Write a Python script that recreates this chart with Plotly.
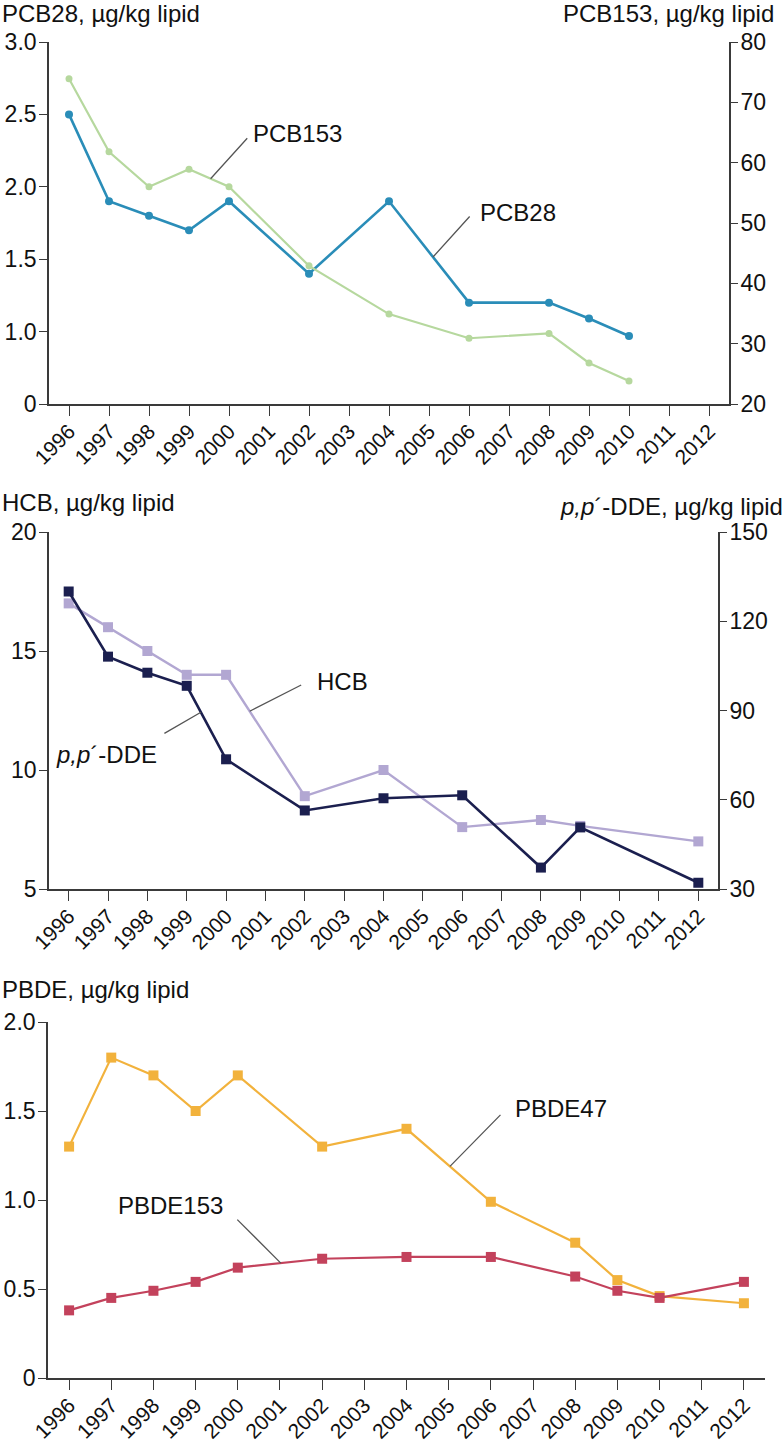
import numpy as np
import plotly.graph_objects as go

W, H = 784, 1443
FONT = "Liberation Sans, Arial, Helvetica, sans-serif"
FS_TITLE = 24
FS_TICK = 23
FS_XTICK = 21

# ---------------- data ----------------
axis_years = list(range(1996, 2013))
axis_year_labels = [str(y) for y in axis_years]

pcb_years = [1996, 1997, 1998, 1999, 2000, 2002, 2004, 2006, 2008, 2009, 2010]
pcb28 = [2.50, 1.90, 1.80, 1.70, 1.90, 1.40, 1.90, 1.20, 1.20, 1.09, 0.97]
pcb153 = [73.9, 61.8, 56.0, 58.9, 56.0, 42.9, 34.9, 30.9, 31.7, 26.8, 23.8]

oc_years = [1996, 1997, 1998, 1999, 2000, 2002, 2004, 2006, 2008, 2009, 2012]
hcb = [17.0, 16.0, 15.0, 14.0, 14.0, 8.9, 10.0, 7.6, 7.9, 7.65, 7.0]
dde = [130.0, 108.1, 102.7, 98.3, 73.6, 56.4, 60.5, 61.5, 37.2, 50.7, 32.1]

pbde_years = [1996, 1997, 1998, 1999, 2000, 2002, 2004, 2006, 2008, 2009, 2010, 2012]
pbde47 = [1.30, 1.80, 1.70, 1.50, 1.70, 1.30, 1.40, 0.99, 0.76, 0.55, 0.46, 0.42]
pbde153 = [0.38, 0.45, 0.49, 0.54, 0.62, 0.67, 0.68, 0.68, 0.57, 0.49, 0.45, 0.54]

pcb28_tickvals = [0.5, 1.0, 1.5, 2.0, 2.5, 3.0]
pcb28_ticktext = ["0", "1.0", "1.5", "2.0", "2.5", "3.0"]
pcb153_tickvals = [20, 30, 40, 50, 60, 70, 80]
hcb_tickvals = [5, 10, 15, 20]
dde_tickvals = [30, 60, 90, 120, 150]
pbde_tickvals = [0, 0.5, 1.0, 1.5, 2.0]
pbde_ticktext = ["0", "0.5", "1.0", "1.5", "2.0"]

# colours
C_PCB28 = "#2a8db8"
C_PCB153 = "#b6d89e"
C_HCB = "#b2a7d2"
C_DDE = "#1b1f4f"
C_P47 = "#f2b23c"
C_P153 = "#c3425c"
AX = "#3a3a3a"


def xdom(l, r):
    return [l / W, r / W]


def ydom(top, bottom):
    return [1 - bottom / H, 1 - top / H]


def on_line(xs, ys, x):
    return float(np.interp(x, xs, ys))


fig = go.Figure()

# panel 1
fig.add_trace(go.Scatter(x=pcb_years, y=pcb153, xaxis="x", yaxis="y2", mode="lines+markers",
                         line=dict(color=C_PCB153, width=2.2),
                         marker=dict(symbol="circle", size=7, color=C_PCB153), name="PCB153"))
fig.add_trace(go.Scatter(x=pcb_years, y=pcb28, xaxis="x", yaxis="y", mode="lines+markers",
                         line=dict(color=C_PCB28, width=2.6),
                         marker=dict(symbol="circle", size=8, color=C_PCB28), name="PCB28"))
# panel 2
fig.add_trace(go.Scatter(x=oc_years, y=hcb, xaxis="x2", yaxis="y3", mode="lines+markers",
                         line=dict(color=C_HCB, width=2.4),
                         marker=dict(symbol="square", size=10, color=C_HCB), name="HCB"))
fig.add_trace(go.Scatter(x=oc_years, y=dde, xaxis="x2", yaxis="y4", mode="lines+markers",
                         line=dict(color=C_DDE, width=2.6),
                         marker=dict(symbol="square", size=10, color=C_DDE), name="p,p'-DDE"))
# panel 3
fig.add_trace(go.Scatter(x=pbde_years, y=pbde47, xaxis="x3", yaxis="y5", mode="lines+markers",
                         line=dict(color=C_P47, width=2.2),
                         marker=dict(symbol="square", size=10, color=C_P47), name="PBDE47"))
fig.add_trace(go.Scatter(x=pbde_years, y=pbde153, xaxis="x3", yaxis="y5", mode="lines+markers",
                         line=dict(color=C_P153, width=2.2),
                         marker=dict(symbol="square", size=10, color=C_P153), name="PBDE153"))

xcommon = dict(range=[1995.5, 2012.5], tickmode="array", tickvals=axis_years, ticktext=axis_year_labels,
               tickangle=-45, ticks="outside", ticklen=10, tickwidth=1.3, tickcolor=AX,
               showline=True, linecolor=AX, linewidth=1.6, showgrid=False, zeroline=False,
               tickfont=dict(family=FONT, size=FS_XTICK, color="#111"), ticklabelstandoff=-5,
               automargin=False, fixedrange=True)
ycommon = dict(ticks="outside", ticklen=8, tickwidth=1.3, tickcolor=AX, showline=True, linecolor=AX,
               linewidth=1.6, showgrid=False, zeroline=False,
               tickfont=dict(family=FONT, size=FS_TICK, color="#111"), automargin=False,
               fixedrange=True, tickmode="array", ticklabelstandoff=-2)

layout = dict(
    width=W, height=H, margin=dict(l=0, r=0, t=0, b=0), paper_bgcolor="white", plot_bgcolor="white",
    showlegend=False, font=dict(family=FONT, size=FS_TICK, color="#111"),
    xaxis=dict(xcommon, domain=xdom(49, 729), anchor="y"),
    yaxis=dict(ycommon, domain=ydom(42, 404), range=[0.5, 3.0], tickvals=pcb28_tickvals,
               ticktext=pcb28_ticktext, anchor="x"),
    yaxis2=dict(ycommon, domain=ydom(42, 404), range=[20, 80], tickvals=pcb153_tickvals,
                overlaying="y", side="right", anchor="x", ticklen=7),
    xaxis2=dict(xcommon, domain=xdom(49, 718), anchor="y3"),
    yaxis3=dict(ycommon, domain=ydom(532, 889), range=[5, 20], tickvals=hcb_tickvals, anchor="x2"),
    yaxis4=dict(ycommon, domain=ydom(532, 889), range=[30, 150], tickvals=dde_tickvals,
                overlaying="y3", side="right", anchor="x2", ticklen=7),
    xaxis3=dict(xcommon, domain=xdom(48, 765), anchor="y5"),
    yaxis5=dict(ycommon, domain=ydom(1022, 1378), range=[0, 2.0], tickvals=pbde_tickvals,
                ticktext=pbde_ticktext, anchor="x3"),
)
fig.update_layout(**layout)

ann = []


def title(text, xpx, ypx, anchor):
    ann.append(dict(x=xpx / W, y=1 - ypx / H, xref="paper", yref="paper", text=text, showarrow=False,
                    xanchor=anchor, yanchor="middle",
                    font=dict(family=FONT, size=FS_TITLE, color="#111")))


title("PCB28, µg/kg lipid", 0, 13, "left")
title("PCB153, µg/kg lipid", 668, 13, "center")
title("HCB, µg/kg lipid", 0, 502, "left")
title("<i>p,p</i>´-DDE, µg/kg lipid", 671, 507, "center")
title("PBDE, µg/kg lipid", 0, 989, "left")


def leader(xref, yref, xs, ys, xv, ax, ay, text, xanchor, xshift, yshift):
    yv = on_line(xs, ys, xv)
    ann.append(dict(x=xv, y=yv, xref=xref, yref=yref, text="", showarrow=True, arrowhead=0,
                    arrowwidth=1.3, arrowcolor="#555", ax=ax, ay=ay, standoff=0, startstandoff=0))
    ann.append(dict(x=xv, y=yv, xref=xref, yref=yref, text=text, showarrow=False, xanchor=xanchor,
                    yanchor="middle", xshift=xshift, yshift=yshift,
                    font=dict(family=FONT, size=FS_TITLE, color="#111")))


leader("x", "y2", pcb_years, pcb153, 1999.54, 38, -42, "PCB153", "left", 40, 45)
leader("x", "y", pcb_years, pcb28, 2005.1, 38, -42, "PCB28", "left", 45, 45)
leader("x2", "y3", oc_years, hcb, 2000.6, 53, -27, "HCB", "left", 65, 30)
leader("x2", "y4", oc_years, dde, 1999.36, -38, 22, "<i>p,p</i>´-DDE", "right", -42, -42)
leader("x3", "y5", pbde_years, pbde47, 2005.03, 52, -53, "PBDE47", "left", 63, 58)
leader("x3", "y5", pbde_years, pbde153, 2001.02, -45, -45, "PBDE153", "center", -110, 58)

fig.update_layout(annotations=ann)
fig.write_html("out.html", config={"displayModeBar": False},
               post_script="document.body.style.margin='0px';document.body.style.padding='0px';")
